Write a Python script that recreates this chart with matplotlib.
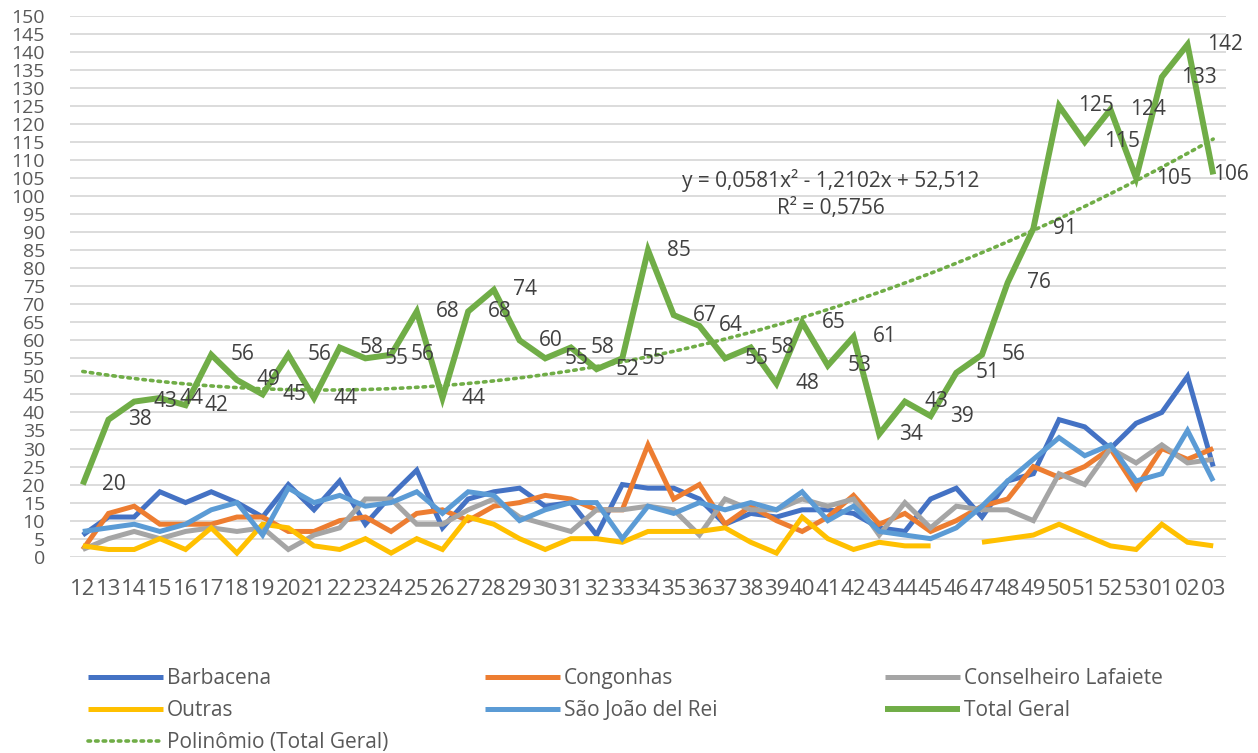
import matplotlib
matplotlib.use("Agg")
import matplotlib.pyplot as plt
import numpy as np

plt.rcParams["font.family"] = ["Open Sans", "DejaVu Sans"]

weeks = [str(w) for w in range(12, 54)] + ["01", "02", "03"]

barbacena = [6, 11, 11, 18, 15, 18, 15, 11, 20, 13, 21, 9, 17, 24, 8, 16, 18, 19, 14, 15,
             6, 20, 19, 19, 16, 9, 12, 11, 13, 13, 12, 8, 7, 16, 19, 11, 21, 23, 38, 36,
             30, 37, 40, 50, 25]
congonhas = [2, 12, 14, 9, 9, 9, 11, 11, 7, 7, 10, 11, 7, 12, 13, 10, 14, 15, 17, 16,
             13, 13, 31, 16, 20, 9, 14, 10, 7, 11, 17, 9, 12, 7, 10, 14, 16, 25, 22, 25,
             30, 19, 30, 27, 30]
conselheiro = [2, 5, 7, 5, 7, 8, 7, 8, 2, 6, 8, 16, 16, 9, 9, 13, 16, 11, 9, 7,
               13, 13, 14, 13, 6, 16, 13, 13, 16, 14, 16, 6, 15, 8, 14, 13, 13, 10, 23, 20,
               30, 26, 31, 26, 27]
outras = [3, 2, 2, 5, 2, 8, 1, 9, 8, 3, 2, 5, 1, 5, 2, 11, 9, 5, 2, 5,
          5, 4, 7, 7, 7, 8, 4, 1, 11, 5, 2, 4, 3, 3, np.nan, 4, 5, 6, 9, 6,
          3, 2, 9, 4, 3]
sao_joao = [7, 8, 9, 7, 9, 13, 15, 6, 19, 15, 17, 14, 15, 18, 12, 18, 17, 10, 13, 15,
            15, 5, 14, 12, 15, 13, 15, 13, 18, 10, 14, 7, 6, 5, 8, 14, 21, 27, 33, 28,
            31, 21, 23, 35, 21]
total = [20, 38, 43, 44, 42, 56, 49, 45, 56, 44, 58, 55, 56, 68, 44, 68, 74, 60, 55, 58,
         52, 55, 85, 67, 64, 55, 58, 48, 65, 53, 61, 34, 43, 39, 51, 56, 76, 91, 125, 115,
         124, 105, 133, 142, 106]

series = [
    ("Barbacena", barbacena, "#4472C4"),
    ("Congonhas", congonhas, "#ED7D31"),
    ("Conselheiro Lafaiete", conselheiro, "#A5A5A5"),
    ("Outras", outras, "#FFC000"),
    ("São João del Rei", sao_joao, "#5B9BD5"),
    ("Total Geral", total, "#70AD47"),
]

TICK_COLOR = "#595959"
LABEL_COLOR = "#404040"
FS = 15

fig = plt.figure(figsize=(12.58, 7.53), dpi=100)
ax = fig.add_axes([0.0556, 0.2607, 0.919, 0.7184])

x = np.arange(len(weeks))
handles = {}
for name, vals, color in series:
    lw = 4.3 if name == "Total Geral" else 3.6
    (h,) = ax.plot(x, vals, color=color, lw=lw, solid_joinstyle="miter",
                   solid_capstyle="butt", zorder=3)
    handles[name] = h

# polynomial trendline (order 2) on Total Geral, x = 1..n like Excel
xt = x + 1
coef = np.polyfit(xt, total, 2)
fit = np.polyval(coef, xt)
tot = np.array(total, dtype=float)
r2 = 1 - np.sum((tot - fit) ** 2) / np.sum((tot - tot.mean()) ** 2)
xs = np.linspace(1, len(weeks), 300)
(trend,) = ax.plot(xs - 1, np.polyval(coef, xs), color="#70AD47", lw=2.6,
                   linestyle=(0, (0.7, 1.4)), dash_capstyle="round", zorder=2)
handles["Polinômio (Total Geral)"] = trend

def br(v, nd):
    return f"{v:.{nd}f}".replace(".", ",")

eq = f"y = {br(coef[0], 4)}x² - {br(-coef[1], 4)}x + {br(coef[2], 3)}"
ax.text(29.1, 104.3, eq, ha="center", va="center", fontsize=FS, color=LABEL_COLOR)
ax.text(29.1, 96.5, f"R² = {br(r2, 4)}", ha="center", va="center", fontsize=FS,
        color=LABEL_COLOR)

for i, (xi, v) in enumerate(zip(x, total)):
    # the last label is pulled in so it stays inside the plot area
    dx = 0 if i == len(total) - 1 else 14
    ax.annotate(str(v), (xi, v), xytext=(dx, 0), textcoords="offset points",
                ha="left", va="center", fontsize=FS, color=LABEL_COLOR, zorder=4)

ax.set_xlim(-0.5, len(weeks) - 0.5)
ax.set_ylim(0, 150)
ax.set_yticks(np.arange(0, 151, 5))
ax.set_xticks(x)
ax.set_xticklabels(weeks)
ax.grid(axis="y", color="#D9D9D9", lw=1.3)
ax.set_axisbelow(True)
for s in ax.spines.values():
    s.set_visible(False)
ax.tick_params(axis="both", length=0, labelcolor=TICK_COLOR)
ax.tick_params(axis="y", pad=18, labelsize=14)
ax.tick_params(axis="x", pad=16, labelsize=16)

cols = [
    (["Barbacena", "Outras", "Polinômio (Total Geral)"], 88),
    (["Congonhas", "São João del Rei"], 485),
    (["Conselheiro Lafaiete", "Total Geral"], 885),
]
W, H = 1258, 753
for names, px in cols:
    leg = fig.legend([handles[n] for n in names], names, loc="upper left",
                     bbox_to_anchor=(px / W, 1 - 668 / H), frameon=False,
                     fontsize=FS, handlelength=3.6, handletextpad=0.2,
                     labelspacing=0.53, borderpad=0, borderaxespad=0,
                     labelcolor=TICK_COLOR)

fig.savefig("out.png", dpi=100)
